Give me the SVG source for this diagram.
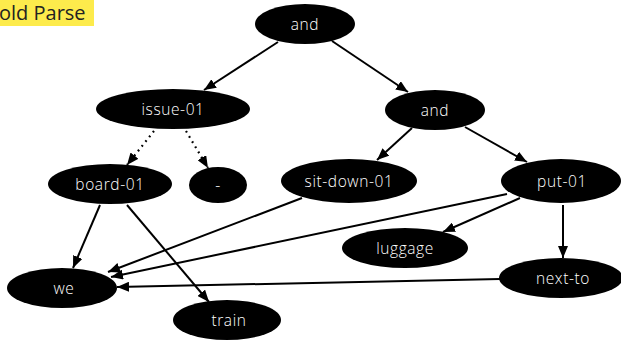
<svg xmlns="http://www.w3.org/2000/svg" width="621" height="342" viewBox="0 0 621 342">
<style>
.n ellipse{fill:#000}
.n text{fill:#fff;font-family:"Open Sans","Liberation Sans",sans-serif;font-size:15.5px;font-weight:300;letter-spacing:0.6px;text-anchor:middle}
.e line{stroke:#000;stroke-width:2;fill:none}
.e .d{stroke-dasharray:1.8 4.2;stroke-width:2.2}
.title{font-family:"Open Sans","Liberation Sans",sans-serif;font-size:20px;fill:#222}
</style>
<defs>
<marker id="ah" viewBox="0 0 12 10" refX="12" refY="5" markerWidth="12" markerHeight="10" markerUnits="userSpaceOnUse" orient="auto">
<path d="M0,0 L12,5 L0,10 z" fill="#000"/>
</marker>
</defs>
<rect width="621" height="342" fill="#fff"/>
<g id="title">
<rect x="0" y="0" width="94" height="26" fill="#fdeb4c"/>
<text class="title" x="-1" y="20">old Parse</text>
</g>
<g class="e" id="connectors">
<line x1="278" y1="42" x2="204" y2="90" marker-end="url(#ah)"/>
<line x1="332" y1="41" x2="408" y2="92" marker-end="url(#ah)"/>
<line class="d" x1="154" y1="131" x2="127" y2="165" marker-end="url(#ah)"/>
<line class="d" x1="186" y1="131" x2="208" y2="168" marker-end="url(#ah)"/>
<line x1="412" y1="128" x2="377" y2="160" marker-end="url(#ah)"/>
<line x1="465" y1="127" x2="527" y2="162" marker-end="url(#ah)"/>
<line x1="100" y1="205" x2="73" y2="268" marker-end="url(#ah)"/>
<line x1="127" y1="205" x2="209" y2="302" marker-end="url(#ah)"/>
<line x1="302" y1="198" x2="108" y2="272" marker-end="url(#ah)"/>
<line x1="507" y1="194" x2="111" y2="277" marker-end="url(#ah)"/>
<line x1="520" y1="198" x2="443" y2="232" marker-end="url(#ah)"/>
<line x1="563" y1="205" x2="563" y2="258" marker-end="url(#ah)"/>
<line x1="500" y1="279" x2="117" y2="287" marker-end="url(#ah)"/>
</g>
<g class="n" id="n-and"><ellipse cx="305" cy="24" rx="50" ry="20"/><text x="305" y="29.5">and</text></g>
<g class="n" id="n-issue"><ellipse cx="173" cy="109" rx="77" ry="20"/><text x="173" y="114.5">issue-01</text></g>
<g class="n" id="n-and2"><ellipse cx="435" cy="110" rx="50" ry="20"/><text x="435" y="115.5">and</text></g>
<g class="n" id="n-board"><ellipse cx="110" cy="184" rx="62" ry="20"/><text x="110" y="189.5">board-01</text></g>
<g class="n" id="n-dash"><ellipse cx="218" cy="185" rx="29" ry="18"/><text x="218" y="190.5">-</text></g>
<g class="n" id="n-sitdown"><ellipse cx="349" cy="181" rx="68" ry="22"/><text x="349" y="186.5">sit-down-01</text></g>
<g class="n" id="n-put"><ellipse cx="561" cy="181" rx="60" ry="22"/><text x="562" y="186.5">put-01</text></g>
<g class="n" id="n-luggage"><ellipse cx="405" cy="248" rx="63" ry="20"/><text x="405" y="253.5">luggage</text></g>
<g class="n" id="n-nextto"><ellipse cx="561" cy="278" rx="62" ry="20"/><text x="563" y="283.5">next-to</text></g>
<g class="n" id="n-we"><ellipse cx="62" cy="288" rx="55" ry="20"/><text x="64" y="293.5">we</text></g>
<g class="n" id="n-train"><ellipse cx="227" cy="320" rx="54" ry="20"/><text x="229" y="325.5">train</text></g>
</svg>
